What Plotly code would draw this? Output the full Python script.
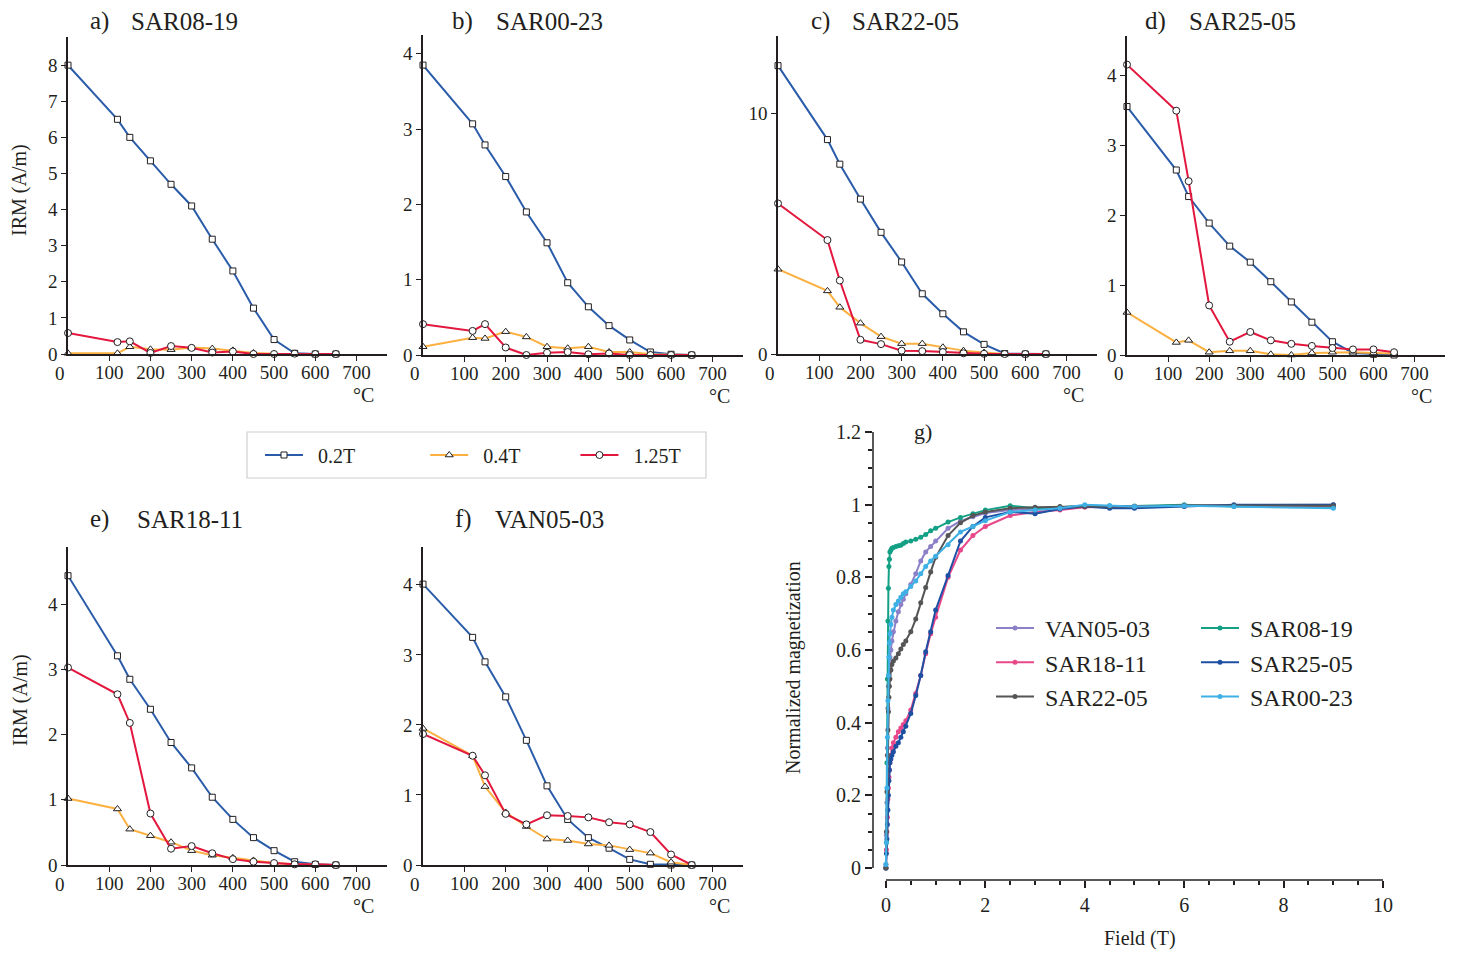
import plotly.graph_objects as go

# the page body keeps an 8px margin, so the figure is drawn 8px smaller and shifted
OFF = 8
W, H = 1460 - 2 * OFF, 954 - OFF
FONT = "Liberation Serif"
INK = "#231f20"
NB = "\u00a0"

# thermal demagnetisation steps (°C)
temps = [0, 120, 150, 200, 250, 300, 350, 400, 450, 500, 550, 600, 650]

# IRM (A/m) per sample, for the 0.2T / 0.4T / 1.25T components
sar08_19_02 = [8.0, 6.5, 6.0, 5.35, 4.7, 4.1, 3.18, 2.3, 1.27, 0.4, 0.02, 0.0, 0.0]
sar08_19_04 = [0.02, 0.02, 0.2, 0.13, 0.12, 0.18, 0.15, 0.1, 0.03, 0.01, 0.01, 0.0, 0.0]
sar08_19_125 = [0.58, 0.33, 0.35, 0.03, 0.22, 0.17, 0.04, 0.07, 0.0, 0.0, 0.01, 0.0, 0.0]

sar00_23_02 = [3.85, 3.07, 2.79, 2.37, 1.90, 1.49, 0.96, 0.64, 0.39, 0.20, 0.04, 0.01, 0.0]
sar00_23_04 = [0.11, 0.23, 0.22, 0.31, 0.24, 0.11, 0.09, 0.11, 0.04, 0.04, 0.01, 0.0, 0.0]
sar00_23_125 = [0.41, 0.32, 0.41, 0.10, 0.0, 0.03, 0.04, 0.01, 0.02, 0.0, 0.0, 0.0, 0.0]

sar22_05_02 = [11.97, 8.9, 7.88, 6.43, 5.05, 3.82, 2.5, 1.67, 0.92, 0.4, 0.02, 0.0, 0.0]
sar22_05_04 = [3.52, 2.62, 1.94, 1.28, 0.72, 0.43, 0.43, 0.28, 0.14, 0.06, 0.0, 0.0, 0.0]
sar22_05_125 = [6.25, 4.73, 3.05, 0.59, 0.41, 0.14, 0.12, 0.08, 0.03, 0.01, 0.0, 0.0, 0.0]

sar25_05_02 = [3.56, 2.65, 2.27, 1.89, 1.56, 1.33, 1.05, 0.76, 0.47, 0.19, 0.03, 0.01, 0.0]
sar25_05_04 = [0.61, 0.18, 0.21, 0.04, 0.06, 0.06, 0.01, 0.0, 0.03, 0.04, 0.04, 0.03, 0.02]
sar25_05_125 = [4.16, 3.50, 2.49, 0.71, 0.19, 0.33, 0.21, 0.16, 0.13, 0.10, 0.08, 0.08, 0.04]

sar18_11_02 = [4.44, 3.21, 2.85, 2.39, 1.88, 1.49, 1.04, 0.70, 0.42, 0.22, 0.05, 0.01, 0.0]
sar18_11_04 = [1.02, 0.86, 0.55, 0.45, 0.35, 0.22, 0.15, 0.11, 0.07, 0.03, 0.01, 0.0, 0.0]
sar18_11_125 = [3.03, 2.62, 2.18, 0.79, 0.25, 0.29, 0.18, 0.09, 0.05, 0.03, 0.01, 0.01, 0.0]

van05_03_02 = [4.01, 3.25, 2.90, 2.40, 1.78, 1.13, 0.65, 0.39, 0.24, 0.08, 0.01, 0.0, 0.0]
van05_03_04 = [1.95, 1.56, 1.12, 0.75, 0.55, 0.37, 0.35, 0.30, 0.28, 0.22, 0.17, 0.04, 0.0]
van05_03_125 = [1.87, 1.56, 1.28, 0.73, 0.58, 0.71, 0.70, 0.68, 0.61, 0.58, 0.47, 0.15, 0.0]

# IRM acquisition: applied field (T) and normalized magnetization
fields = [0, 0.01, 0.02, 0.03, 0.04, 0.05, 0.06, 0.07, 0.08, 0.1, 0.12, 0.15, 0.2, 0.25,
          0.3, 0.35, 0.4, 0.5, 0.6, 0.7, 0.8, 0.9, 1.0, 1.25, 1.5, 1.75, 2.0, 2.5, 3.0,
          3.5, 4.0, 4.5, 5.0, 6.0, 7.0, 9.0]
acq_van05_03 = [0.01, 0.09, 0.18, 0.33, 0.44, 0.5, 0.53, 0.56, 0.58, 0.6, 0.625, 0.65, 0.68,
                0.705, 0.725, 0.74, 0.755, 0.78, 0.81, 0.845, 0.87, 0.885, 0.9, 0.935, 0.955,
                0.967, 0.977, 0.985, 0.99, 0.993, 0.996, 0.995, 0.995, 0.998, 0.998, 1.0]
acq_sar08_19 = [0.0, 0.07, 0.29, 0.52, 0.68, 0.77, 0.83, 0.85, 0.87, 0.875, 0.88, 0.882, 0.885,
                0.887, 0.888, 0.893, 0.897, 0.9, 0.905, 0.91, 0.918, 0.928, 0.935, 0.952, 0.965,
                0.975, 0.985, 0.997, 0.99, 0.993, 0.997, 0.996, 0.996, 1.0, 0.995, 0.993]
acq_sar18_11 = [0.0, 0.05, 0.1, 0.14, 0.19, 0.22, 0.25, 0.27, 0.29, 0.31, 0.33, 0.345, 0.36,
                0.375, 0.385, 0.395, 0.405, 0.435, 0.48, 0.53, 0.59, 0.645, 0.69, 0.8, 0.875,
                0.915, 0.94, 0.97, 0.98, 0.985, 0.993, 0.993, 0.995, 0.997, 0.997, 0.997]
acq_sar25_05 = [0.0, 0.04, 0.08, 0.12, 0.16, 0.2, 0.24, 0.27, 0.29, 0.3, 0.31, 0.32, 0.335,
                0.345, 0.36, 0.375, 0.39, 0.425, 0.475, 0.53, 0.595, 0.65, 0.71, 0.805, 0.9,
                0.94, 0.965, 0.98, 0.975, 0.988, 0.995, 0.99, 0.99, 0.995, 1.0, 1.0]
acq_sar22_05 = [0.0, 0.1, 0.21, 0.31, 0.38, 0.43, 0.47, 0.5, 0.52, 0.545, 0.56, 0.57, 0.578,
                0.59, 0.603, 0.615, 0.625, 0.65, 0.685, 0.73, 0.772, 0.815, 0.855, 0.915, 0.95,
                0.97, 0.98, 0.99, 0.993, 0.995, 0.995, 0.995, 0.995, 0.998, 0.997, 0.997]
acq_sar00_23 = [0.01, 0.07, 0.22, 0.36, 0.46, 0.53, 0.58, 0.62, 0.645, 0.67, 0.69, 0.71, 0.725,
                0.735, 0.745, 0.755, 0.76, 0.775, 0.79, 0.81, 0.83, 0.845, 0.858, 0.89, 0.925,
                0.94, 0.956, 0.98, 0.985, 0.99, 1.0, 0.998, 0.995, 0.997, 0.995, 0.99]

components = ["0.2T", "0.4T", "1.25T"]
comp_colors = ["#2a5caa", "#fbb040", "#e3173e"]
comp_symbols = ["square", "triangle-up", "circle"]
comp_sizes = [6, 7, 7]
comp_pad = [13, 10, 0]   # trailing spaces that set the legend entry spacing

# letter, sample, (left, right, top, bottom) in px, ymax, yticks, series, (letter x, name x, title y)
panels = [
    ("a)", "SAR08-19", (68, 387, 37, 354), 8.78, list(range(9)),
     (sar08_19_02, sar08_19_04, sar08_19_125), (88, 129, 21)),
    ("b)", "SAR00-23", (423, 743, 35, 355), 4.25, [0, 1, 2, 3, 4],
     (sar00_23_02, sar00_23_04, sar00_23_125), (450, 494, 21)),
    ("c)", "SAR22-05", (778, 1097, 36, 354), 13.2, [0, 10],
     (sar22_05_02, sar22_05_04, sar22_05_125), (809, 850, 21)),
    ("d)", "SAR25-05", (1127, 1445, 36, 355), 4.57, [0, 1, 2, 3, 4],
     (sar25_05_02, sar25_05_04, sar25_05_125), (1143, 1187, 21)),
    ("e)", "SAR18-11", (68, 387, 547, 865), 4.88, [0, 1, 2, 3, 4],
     (sar18_11_02, sar18_11_04, sar18_11_125), (88, 135, 519)),
    ("f)", "VAN05-03", (423, 743, 547, 865), 4.54, [0, 1, 2, 3, 4],
     (van05_03_02, van05_03_04, van05_03_125), (453, 493, 519)),
]


def px(v):
    return (v - OFF) / W


def py(v):
    return 1 - (v - OFF) / H


fig = go.Figure()
axes = {}
annotations = []


def note(text, x, y, size, xanchor="center", **kw):
    annotations.append(dict(text=text, x=px(x), y=py(y), xref="paper", yref="paper",
                            xanchor=xanchor, yanchor="middle", showarrow=False,
                            font=dict(family=FONT, size=size, color=INK), **kw))


for i, (letter, name, (l, r, t, b), ymax, yticks, series, (lx, nx, ty)) in enumerate(panels, start=1):
    sfx = "" if i == 1 else str(i)
    axes["xaxis" + sfx] = dict(domain=[px(l), px(r)], range=[0, 774], anchor="y" + sfx,
                               tickvals=[100, 200, 300, 400, 500, 600, 700], automargin=False,
                               showline=True, linecolor=INK, linewidth=1.5,
                               ticks="outside", ticklen=5, tickcolor=INK, showgrid=False,
                               ticklabelstandoff=-5,
                               zeroline=False, tickfont=dict(family=FONT, size=19, color=INK))
    axes["yaxis" + sfx] = dict(domain=[py(b), py(t)], range=[0, ymax], anchor="x" + sfx,
                               tickvals=yticks, showline=True, linecolor=INK, linewidth=1.5,
                               automargin=False,
                               ticks="outside", ticklen=5, tickcolor=INK, showgrid=False,
                               zeroline=False, tickfont=dict(family=FONT, size=19, color=INK))
    for k, vals in enumerate(series):
        fig.add_trace(go.Scatter(
            x=temps, y=vals, xaxis="x" + sfx, yaxis="y" + sfx,
            name=NB * 2 + components[k] + NB * comp_pad[k],
            mode="lines+markers", cliponaxis=False, showlegend=(i == 1), legend="legend",
            line=dict(color=comp_colors[k], width=2),
            marker=dict(symbol=comp_symbols[k], size=comp_sizes[k], color="white",
                        line=dict(color=INK, width=1))))
    note(letter, lx, ty, 25, xanchor="left")
    note(name, nx, ty, 25, xanchor="left")
    note("0", l - 8, b + 19, 19)
    note("°C", r - 24, b + 41, 20)

note("IRM (A/m)", 20, 190, 20, textangle=-90)
note("IRM (A/m)", 20, 700, 20, textangle=-90)

# panel g: IRM acquisition curves
acq = [
    ("VAN05-03", acq_van05_03, "#8c80c8", "legend2"),
    ("SAR08-19", acq_sar08_19, "#14a085", "legend3"),
    ("SAR18-11", acq_sar18_11, "#e8488a", "legend2"),
    ("SAR25-05", acq_sar25_05, "#1d4fa3", "legend3"),
    ("SAR22-05", acq_sar22_05, "#555555", "legend2"),
    ("SAR00-23", acq_sar00_23, "#3fb0e6", "legend3"),
]
for name, vals, color, leg in acq:
    fig.add_trace(go.Scatter(x=fields, y=vals, xaxis="x7", yaxis="y7", name=NB + name,
                             mode="lines+markers", legend=leg, cliponaxis=False,
                             line=dict(color=color, width=2),
                             marker=dict(symbol="circle", size=5, color=color)))

gl, gr, gt, gb = 873, 1390, 432, 880
axes["xaxis7"] = dict(domain=[px(gl), px(gr)], range=[-0.26, 10.14], anchor="y7",
                      tickvals=[0, 2, 4, 6, 8, 10], showline=False, showgrid=False, zeroline=False,
                      automargin=False,
                      ticks="outside", ticklen=7, tickcolor=INK, tickwidth=1.5,
                      minor=dict(dtick=0.5, tick0=0, ticks="outside", ticklen=4, tickcolor=INK),
                      tickfont=dict(family=FONT, size=20, color=INK))
axes["yaxis7"] = dict(domain=[py(gb), py(gt)], range=[-0.033, 1.2], anchor="x7",
                      tickvals=[0, 0.2, 0.4, 0.6, 0.8, 1, 1.2], showline=False, showgrid=False,
                      zeroline=False, ticks="outside", ticklen=7, tickcolor=INK, tickwidth=1.5,
                      automargin=False,
                      minor=dict(dtick=0.05, tick0=0, ticks="outside", ticklen=4, tickcolor=INK),
                      tickfont=dict(family=FONT, size=20, color=INK))
note("g)", 923, 432, 22)
note("Field (T)", 1140, 938, 20)
note("Normalized magnetization", 793, 668, 20, textangle=-90)

shapes = [
    # g axis lines, Origin style (not joined at the corner)
    dict(type="line", xref="x7", yref="y7 domain", x0=0, x1=10, y0=0, y1=0,
         line=dict(color=INK, width=1.5)),
    dict(type="line", xref="x7 domain", yref="y7", x0=0, x1=0, y0=0, y1=1.2,
         line=dict(color=INK, width=1.5)),
    # frame around the shared legend
    dict(type="rect", xref="paper", yref="paper", x0=px(247), x1=px(706), y0=py(478), y1=py(432),
         line=dict(color="#cfcfcf", width=1.2)),
]

fig.update_layout(
    width=W, height=H, margin=dict(l=0, r=0, t=0, b=0, autoexpand=False),
    paper_bgcolor="white", plot_bgcolor="white",
    font=dict(family=FONT, color=INK),
    annotations=annotations, shapes=shapes,
    legend=dict(orientation="h", x=px(260), y=py(455), xanchor="left", yanchor="middle",
                itemwidth=38, bgcolor="rgba(0,0,0,0)",
                font=dict(family=FONT, size=20, color=INK)),
    legend2=dict(x=px(991), y=py(606), xanchor="left", yanchor="top", itemwidth=38,
                 bgcolor="rgba(0,0,0,0)", font=dict(family=FONT, size=24, color=INK)),
    legend3=dict(x=px(1196), y=py(606), xanchor="left", yanchor="top", itemwidth=38,
                 bgcolor="rgba(0,0,0,0)", font=dict(family=FONT, size=24, color=INK)),
    **axes,
)

fig.write_html("out.html")
